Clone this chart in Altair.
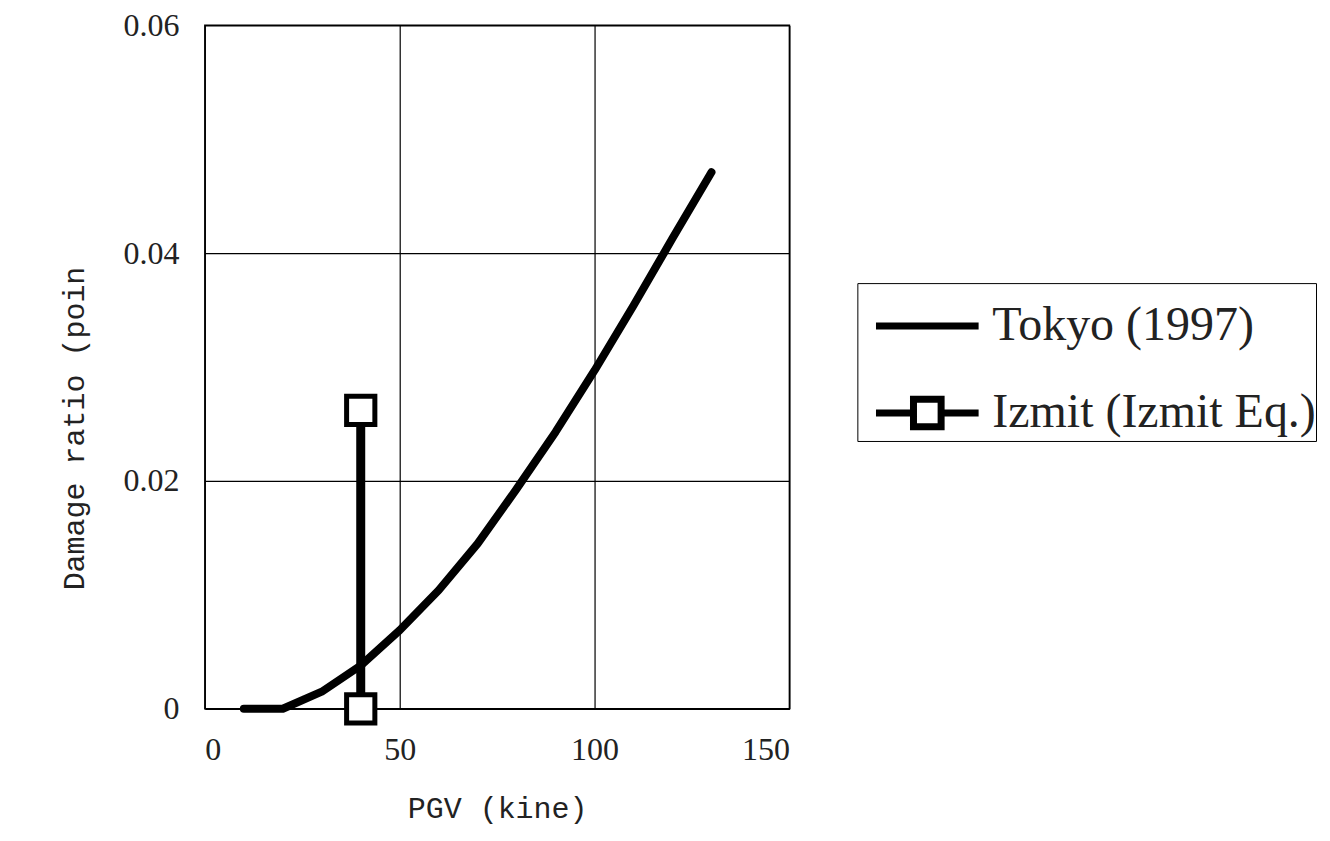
import altair as alt
import pandas as pd

# ---- data ----
tokyo_pgv = [10, 20, 30, 40, 50, 60, 70, 80, 90, 100, 110, 120, 130]
tokyo_ratio = [0.0, 0.0, 0.0015, 0.0038, 0.0069, 0.0104, 0.0145, 0.0193, 0.0243, 0.0297, 0.0354, 0.0413, 0.0471]
izmit_pgv = [40, 40]
izmit_ratio = [0.0, 0.0262]
series_names = ["Tokyo (1997)", "Izmit (Izmit Eq.)"]
x_ticks = [0, 50, 100, 150]
y_ticks = [0, 0.02, 0.04, 0.06]

tokyo_df = pd.DataFrame({"pgv": tokyo_pgv, "ratio": tokyo_ratio, "series": series_names[0]})
izmit_df = pd.DataFrame({"pgv": izmit_pgv, "ratio": izmit_ratio, "series": series_names[1]})
legend_df = pd.DataFrame({"series": series_names})

SERIF = "Liberation Serif"
MONO = "Liberation Mono"
TXT = "#222222"

x_enc = alt.X(
    "pgv:Q",
    scale=alt.Scale(domain=[0, 150], nice=False, zero=False),
    axis=alt.Axis(
        values=x_ticks, title="PGV (kine)", grid=True, ticks=False, domain=False,
        gridColor="black", gridOpacity=1, gridWidth=1.2,
        labelFont=SERIF, labelFontSize=32, labelColor=TXT, labelPadding=26,
        titleFont=MONO, titleFontSize=30, titleFontWeight="normal", titleColor=TXT, titlePadding=28,
    ),
)
y_enc = alt.Y(
    "ratio:Q",
    scale=alt.Scale(domain=[0, 0.06], nice=False, zero=False),
    axis=alt.Axis(
        values=y_ticks, format=".2~f", title="Damage ratio (poin", grid=True, ticks=False, domain=False,
        gridColor="black", gridOpacity=1, gridWidth=1.2,
        labelFont=SERIF, labelFontSize=32, labelColor=TXT, labelPadding=26,
        titleFont=MONO, titleFontSize=30, titleFontWeight="normal", titleColor=TXT,
        titleAngle=270, titleAlign="left", titleBaseline="middle", titleX=-130, titleY=565,
    ),
)

tokyo_path = "M-1.3,0L1.3,0"
izmit_path = "M-1.3,0L-0.35,0M0.35,0L1.3,0M-0.35,-0.35L0.35,-0.35L0.35,0.35L-0.35,0.35Z"

legend_props = dict(
    title=None, orient="none", legendX=653, legendY=258,
    symbolSize=6241, symbolStrokeWidth=7, symbolOpacity=1,
    symbolStrokeColor="black", symbolOffset=27, labelOffset=22, padding=0, rowPadding=20,
    strokeColor="black",
    labelFont=SERIF, labelFontSize=48, labelColor=TXT, labelLimit=500,
)

color_scale = alt.Scale(domain=series_names, range=["black", "black"])

tokyo_line = alt.Chart(tokyo_df).mark_line(
    strokeWidth=8, strokeCap="round", strokeJoin="round"
).encode(
    x=x_enc, y=y_enc,
    color=alt.Color("series:N", scale=color_scale, legend=alt.Legend(**legend_props)),
)

izmit_line = alt.Chart(izmit_df).mark_line(strokeWidth=9).encode(
    x="pgv:Q", y="ratio:Q", color=alt.Color("series:N", scale=color_scale)
)
izmit_pts = alt.Chart(izmit_df).mark_point(
    shape="square", filled=True, fill="white", stroke="black", strokeWidth=5, size=800, opacity=1
).encode(x="pgv:Q", y="ratio:Q")

# layer with no drawn points that only carries the combined line + marker legend symbols
legend_layer = alt.Chart(legend_df).transform_filter("false").mark_point(
    filled=False, stroke="black", strokeWidth=7, size=6241, opacity=1
).encode(
    shape=alt.Shape(
        "series:N",
        scale=alt.Scale(domain=series_names, range=[tokyo_path, izmit_path]),
        legend=alt.Legend(**legend_props),
    ),
)

chart = alt.layer(legend_layer, tokyo_line, izmit_line, izmit_pts).properties(
    width=585, height=684,
    autosize=alt.AutoSizeParams(type="none"),
    padding={"left": 197, "top": 17, "right": 533, "bottom": 122},
    background="white",
).configure_view(stroke="black", strokeWidth=1.5)

chart.save("out.html", embed_options={"renderer": "svg", "actions": False})
